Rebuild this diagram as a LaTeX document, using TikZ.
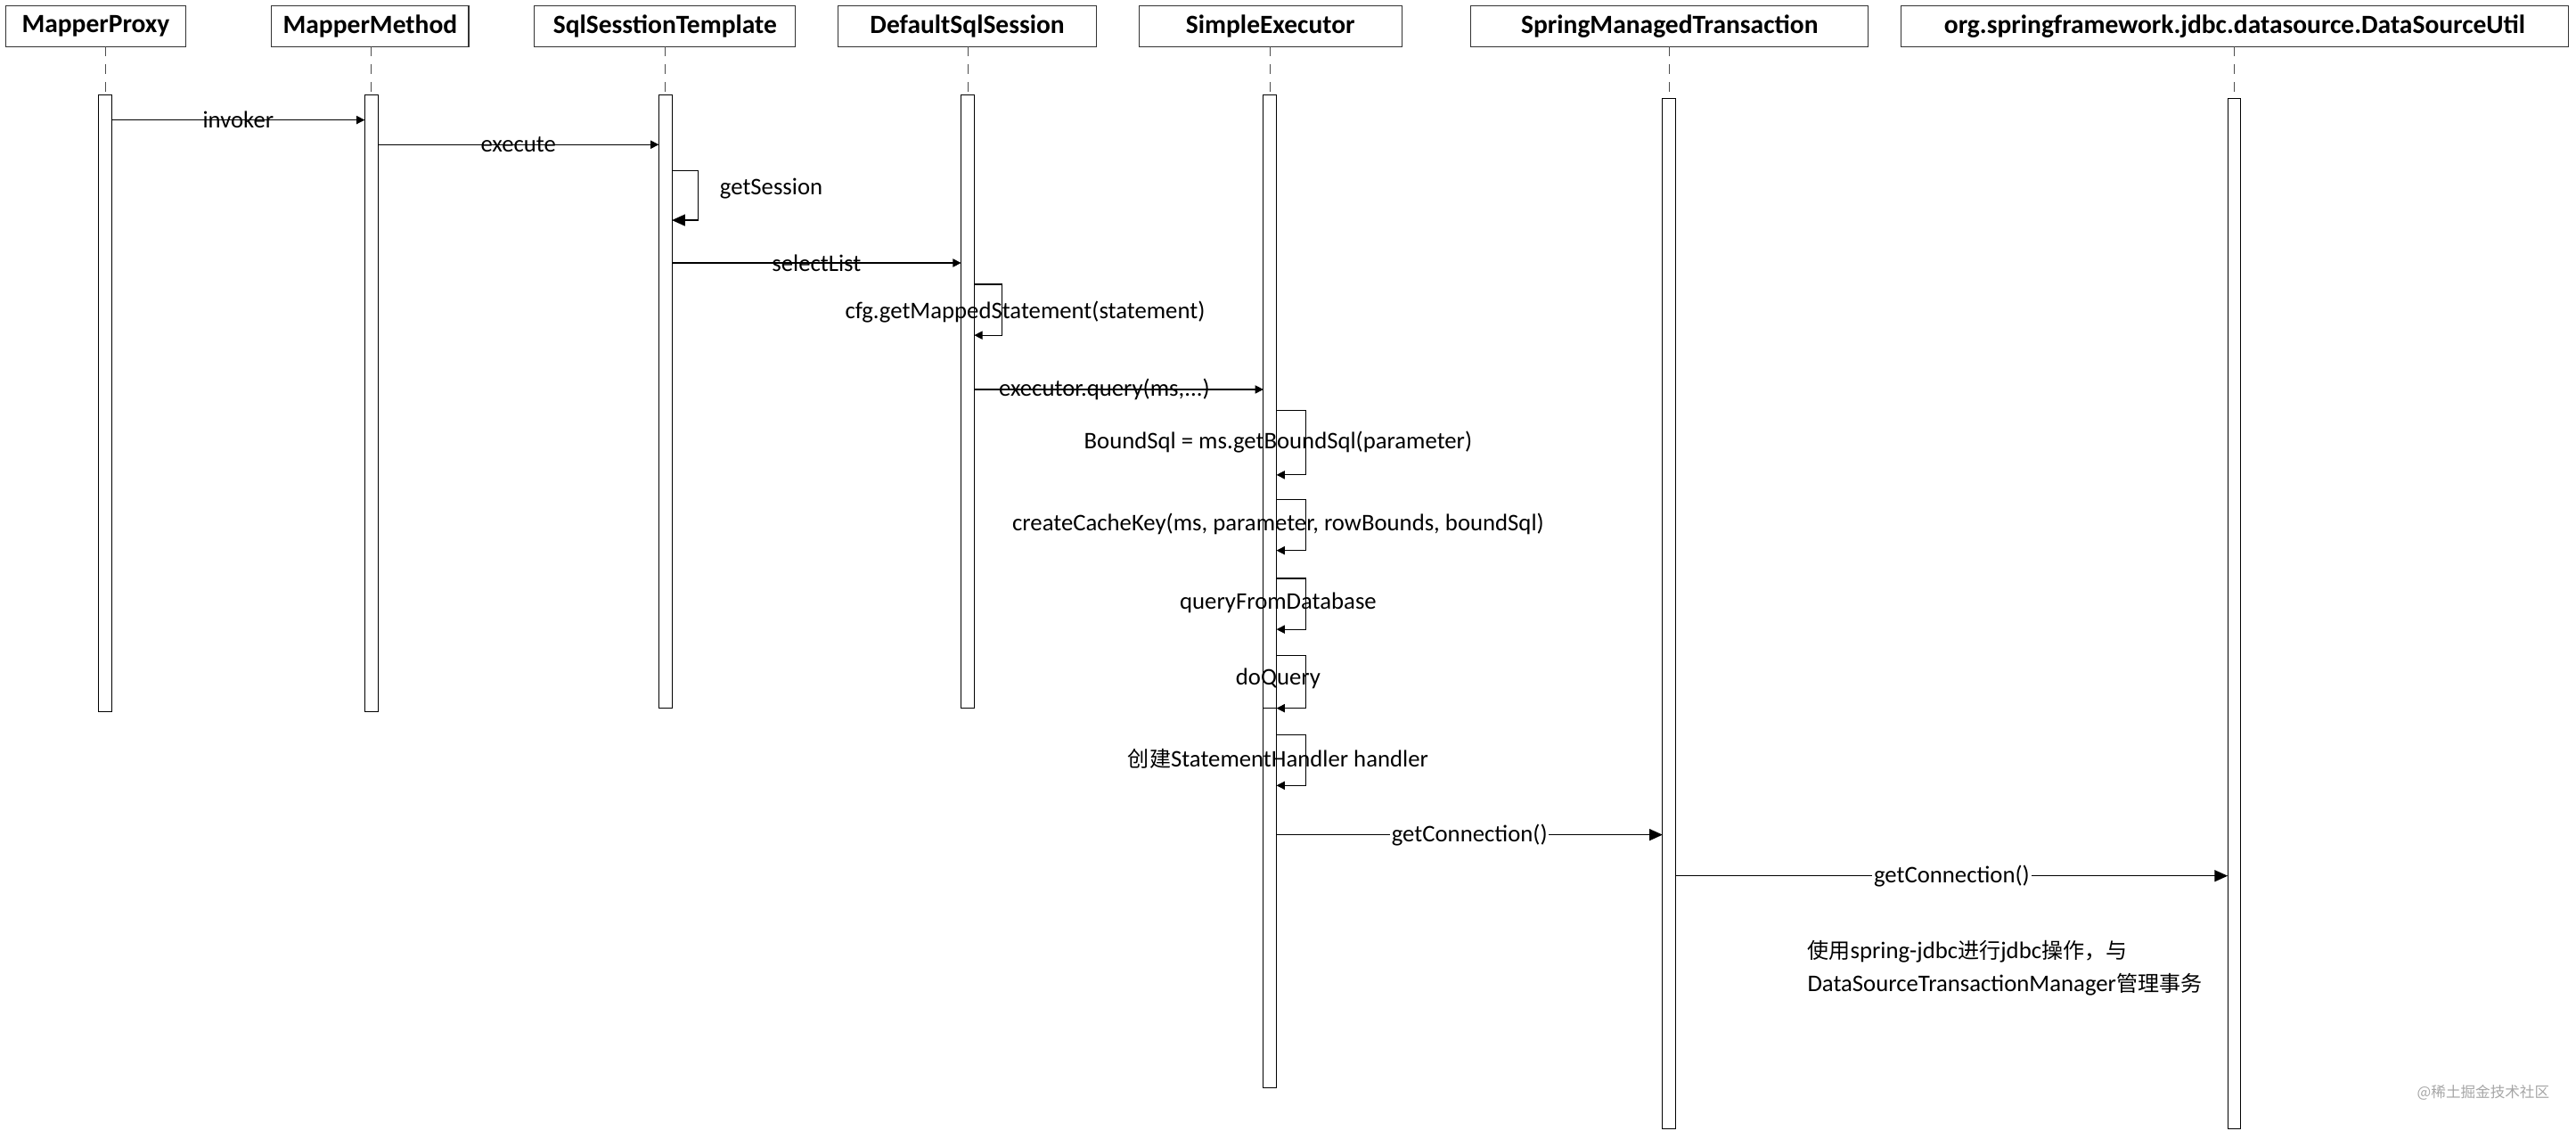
\documentclass[tikz,border=0pt]{standalone}
\usepackage{fontspec}
\setmainfont{Carlito}
\newfontfamily\cjk{Noto Sans CJK SC}[Scale=0.9]
\usetikzlibrary{arrows.meta}
\tikzset{
  head/.style={draw=black!80,line width=0.6pt,minimum height=25pt,inner sep=0pt,font=\bfseries\fontsize{16}{18}\selectfont,anchor=north west},
  act/.style={draw=black,fill=white,line width=0.6pt},
  life/.style={draw=black!70,dash pattern=on 6pt off 5pt,line width=0.5pt},
  msg/.style={draw=black,line width=0.6pt,-{Triangle[length=5pt,width=5pt]}},
  bigmsg/.style={draw=black,line width=0.8pt,-{Triangle[length=8pt,width=7pt]}},
  lbl/.style={font=\fontsize{14.5}{16}\selectfont,inner sep=0pt},
}
\begin{document}
\begin{tikzpicture}[x=1pt,y=-1pt]
\useasboundingbox (0,0) rectangle (1568,688);
% headers
\node[head,minimum width=110pt] (h1) at (3,3) {MapperProxy};
\node[head,minimum width=120pt] (h2) at (165,3) {MapperMethod};
\node[head,minimum width=159pt] (h3) at (325,3) {SqlSesstionTemplate};
\node[head,minimum width=157pt] (h4) at (510,3) {DefaultSqlSession};
\node[head,minimum width=160pt] (h5) at (693,3) {SimpleExecutor};
\node[head,minimum width=242pt] (h6) at (895,3) {SpringManagedTransaction};
\node[head,minimum width=406pt] (h7) at (1157,3) {org.springframework.jdbc.datasource.DataSourceUtil};
% lifelines
\draw[life] (64,28) -- (64,58);
\draw[life] (226,28) -- (226,58);
\draw[life] (405,28) -- (405,58);
\draw[life] (589,28) -- (589,58);
\draw[life] (773,28) -- (773,58);
\draw[life] (1016,28) -- (1016,60);
\draw[life] (1360,28) -- (1360,60);
% activations
\draw[act] (60,58) rectangle (68,433);
\draw[act] (222,58) rectangle (230,433);
\draw[act] (401,58) rectangle (409,431);
\draw[act] (585,58) rectangle (593,431);
\draw[act] (769,58) rectangle (777,662);
\draw[act] (769,431) rectangle (777,662);
\draw[act] (1012,60) rectangle (1020,687);
\draw[act] (1356,60) rectangle (1364,687);
% messages
\coordinate (a1) at (68,73); \coordinate (b1) at (222,73);
\draw[msg] (a1) -- (b1) node[lbl,pos=0.5] {invoker};
\coordinate (a2) at (230,88); \coordinate (b2) at (401,88);
\draw[msg] (a2) -- (b2) node[lbl,pos=0.5] {execute};
\coordinate (a3) at (409,104); \coordinate (b3) at (409,134);
\draw[bigmsg] (a3) -- ++(16,0) |- (b3);
\node[lbl,anchor=west] (t3) at (438,115) {getSession};
\coordinate (a4) at (409,160); \coordinate (b4) at (585,160);
\draw[msg] (a4) -- (b4) node[lbl,pos=0.5] {selectList};
\coordinate (a5) at (593,173); \coordinate (b5) at (593,204);
\draw[msg] (a5) -- ++(17,0) |- (b5);
\node[lbl] (t5) at (624,190) {cfg.getMappedStatement(statement)};
\coordinate (a6) at (593,237); \coordinate (b6) at (769,237);
\draw[msg] (a6) -- (b6) node[lbl,pos=0.45] {executor.query(ms,...)};
\coordinate (a7) at (777,250); \coordinate (b7) at (777,289);
\draw[msg] (a7) -- ++(18,0) |- (b7);
\node[lbl] (t7) at (778,269) {BoundSql = ms.getBoundSql(parameter)};
\coordinate (a8) at (777,304); \coordinate (b8) at (777,335);
\draw[msg] (a8) -- ++(18,0) |- (b8);
\node[lbl] (t8) at (778,319) {createCacheKey(ms, parameter, rowBounds, boundSql)};
\coordinate (a9) at (777,352); \coordinate (b9) at (777,383);
\draw[msg] (a9) -- ++(18,0) |- (b9);
\node[lbl] (t9) at (778,367) {queryFromDatabase};
\coordinate (a10) at (777,399); \coordinate (b10) at (777,431);
\draw[msg] (a10) -- ++(18,0) |- (b10);
\node[lbl] (t10) at (778,413) {doQuery};
\coordinate (a11) at (777,447); \coordinate (b11) at (777,478);
\draw[msg] (a11) -- ++(18,0) |- (b11);
\node[lbl] (t11) at (778,462) {{\cjk 创建}StatementHandler handler};
\coordinate (a12) at (777,508); \coordinate (b12) at (1012,508);
\draw[bigmsg] (a12) -- (b12) node[lbl,pos=0.5,fill=white,inner xsep=1pt] {getConnection()};
\coordinate (a13) at (1020,533); \coordinate (b13) at (1356,533);
\draw[bigmsg] (a13) -- (b13) node[lbl,pos=0.5,fill=white,inner xsep=1pt] {getConnection()};
% note
\node[lbl,anchor=north west,align=left] (note) at (1100,572)
  {{\cjk 使用}spring-jdbc{\cjk 进行}jdbc{\cjk 操作，与}\\[4pt]DataSourceTransactionManager{\cjk 管理事务}};
\node[lbl,anchor=east,text=black!35,font=\cjk\fontsize{10}{11}\selectfont] (wm) at (1552,665) {@稀土掘金技术社区};
\end{tikzpicture}
\end{document}
